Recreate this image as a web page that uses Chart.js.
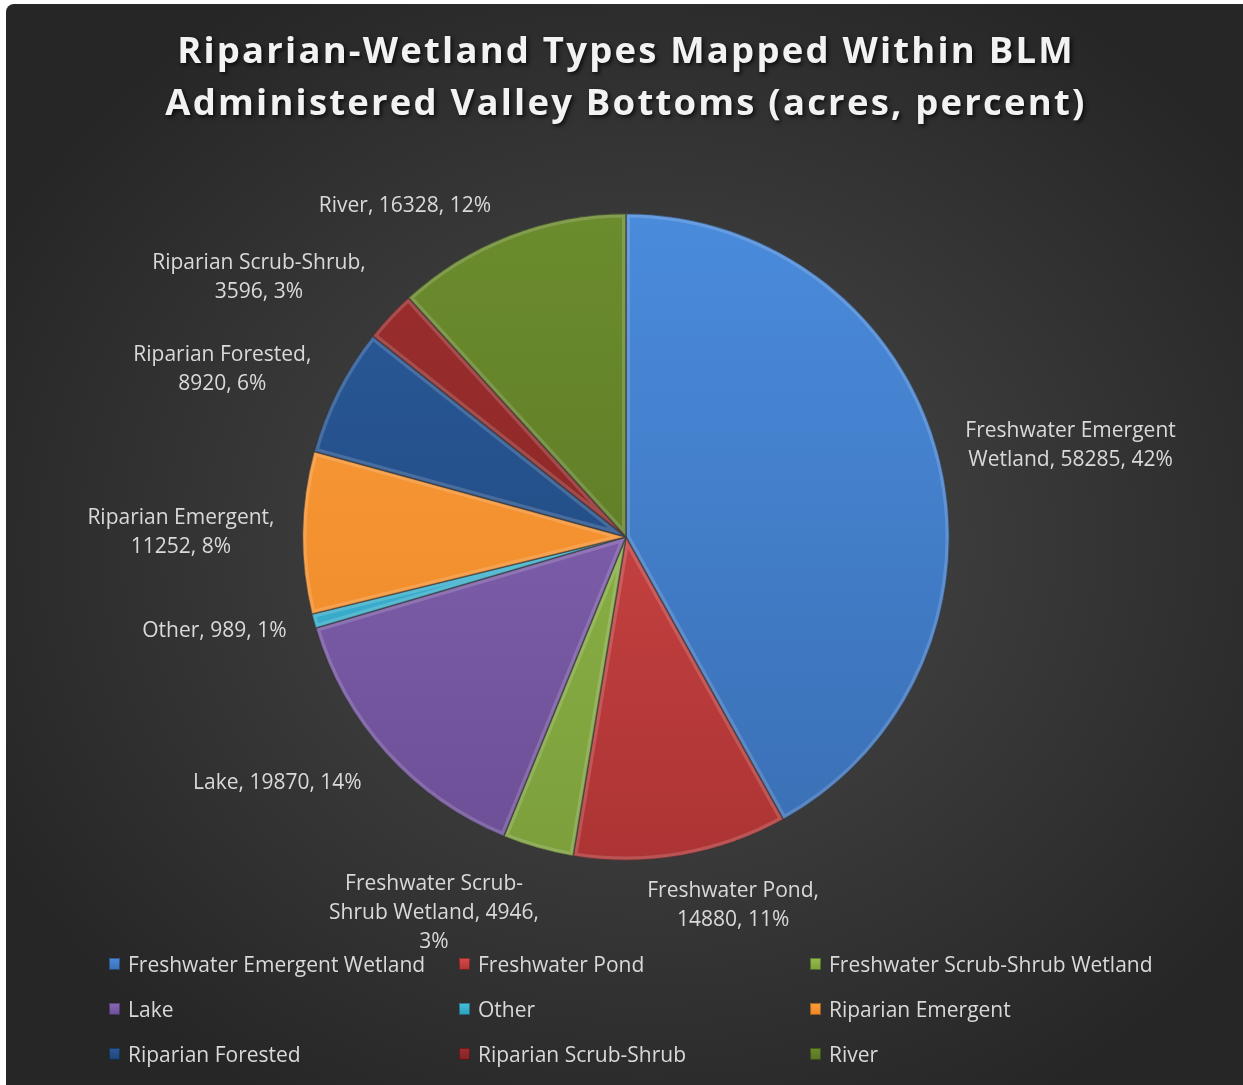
<!DOCTYPE html>
<html>
<head>
<meta charset="utf-8">
<title>Riparian-Wetland Types</title>
<script src="https://cdn.jsdelivr.net/npm/chart.js@4/dist/chart.umd.min.js"></script>
<style>
    html, body {
        margin: 0;
        padding: 0;
        background: #ffffff;
        width: 1243px;
        height: 1085px;
        overflow: hidden;
    }
    #frame {
        position: absolute;
        left: 6px;
        top: 4px;
        width: 1237px;
        height: 1081px;
        border-top-left-radius: 8px;
        background: radial-gradient(ellipse 60% 60% at 52% 50%, #4a4a4a 0%, #3a3a3a 45%, #262626 100%);
    }
    #pie {
        position: absolute;
        left: 0;
        top: 0;
    }
    #legend {
        position: absolute;
        left: 109px;
        top: 941px;
        display: grid;
        grid-template-columns: 350px 351px 380px;
        grid-auto-rows: 45px;
        font-family: "Open Sans", sans-serif;
        font-size: 21px;
        color: #d9d9d9;
    }
    #legend .item {
        display: flex;
        align-items: center;
        white-space: nowrap;
    }
    #legend .box {
        width: 11px;
        height: 12px;
        margin-right: 8px;
        box-shadow: inset 0 0 0 1px rgba(0,0,0,0.35);
    }
</style>
</head>
<body>
<div id="frame"></div>
<canvas id="pie" width="1243" height="1085"></canvas>
<div id="legend"></div>

<script>
// Riparian-wetland acreage by type
const categories = [
    'Freshwater Emergent Wetland',
    'Freshwater Pond',
    'Freshwater Scrub-Shrub Wetland',
    'Lake',
    'Other',
    'Riparian Emergent',
    'Riparian Forested',
    'Riparian Scrub-Shrub',
    'River'
];
const acres = [58285, 14880, 4946, 19870, 989, 11252, 8920, 3596, 16328];
const percents = [42, 11, 3, 14, 1, 8, 6, 3, 12];

const titleLines = [
    'Riparian-Wetland Types Mapped Within BLM',
    'Administered Valley Bottoms (acres, percent)'
];

// top / bottom shade of each slice
const palette = [
    ['#4a8bdc', '#3a6fb4'],
    ['#d94b4b', '#ad3434'],
    ['#93bd4c', '#7c9f3c'],
    ['#8a68b9', '#6c4f96'],
    ['#46c0de', '#2f9fbd'],
    ['#fa9d3c', '#ee8624'],
    ['#2a5b9c', '#1e4476'],
    ['#9c2e2e', '#832323'],
    ['#6b8c2d', '#587323']
];

// how far each label box is pushed from where it lands by default
const labelNudge = [
    [18, 0], [35, 9], [-72, 11], [-37, 11], [-18, 3],
    [-16, 0], [-25, -3], [-44, -11], [-69, -5]
];
const labelWrap = [225, 225, 215, 225, 225, 225, 225, 225, 225];

const LABEL_FONT = '21px "Open Sans", sans-serif';
const LABEL_LINE = 29;

/**
 * Break a label into lines no wider than maxWidth, splitting after spaces or hyphens
 */
function wrapText(ctx, text, maxWidth) {
    const parts = text.split(/(?<=[ -])/);
    const lines = [];
    let line = '';
    parts.forEach(p => {
        const test = line + p;
        if (line && ctx.measureText(test.trimEnd()).width > maxWidth) {
            lines.push(line.trimEnd());
            line = p;
        } else {
            line = test;
        }
    });
    if (line) lines.push(line.trimEnd());
    return lines;
}

const titlePlugin = {
    id: 'spacedTitle',
    afterDraw(chart) {
        const ctx = chart.ctx;
        ctx.save();
        ctx.font = 'bold 36.5px "Open Sans", sans-serif';
        ctx.letterSpacing = '2.2px';
        ctx.textAlign = 'center';
        ctx.textBaseline = 'middle';
        ctx.fillStyle = '#f2f2f2';
        ctx.shadowColor = 'rgba(0,0,0,0.75)';
        ctx.shadowBlur = 4;
        ctx.shadowOffsetX = 2;
        ctx.shadowOffsetY = 2;
        titleLines.forEach((t, i) => ctx.fillText(t, 626, 53 + i * 52));
        ctx.restore();
    }
};

// soft inner highlight along every slice edge
const bevelPlugin = {
    id: 'bevel',
    afterDatasetsDraw(chart) {
        const ctx = chart.ctx;
        chart.getDatasetMeta(0).data.forEach(arc => {
            const { x, y, startAngle, endAngle, outerRadius } = arc.getProps(['x', 'y', 'startAngle', 'endAngle', 'outerRadius'], true);
            ctx.save();
            ctx.beginPath();
            ctx.moveTo(x, y);
            ctx.arc(x, y, outerRadius, startAngle, endAngle);
            ctx.closePath();
            ctx.clip();
            ctx.lineJoin = 'round';
            ctx.lineWidth = 8;
            ctx.strokeStyle = 'rgba(255,255,255,0.16)';
            ctx.stroke();
            ctx.lineWidth = 2;
            ctx.strokeStyle = 'rgba(0,0,0,0.25)';
            ctx.stroke();
            ctx.restore();
        });
    }
};

// "Category, acres, pct%" labels set outside each slice
const outsideLabels = {
    id: 'outsideLabels',
    afterDatasetsDraw(chart) {
        const ctx = chart.ctx;
        const ds = chart.data.datasets[0];
        ctx.save();
        ctx.font = LABEL_FONT;
        ctx.fillStyle = '#d9d9d9';
        ctx.textAlign = 'center';
        ctx.textBaseline = 'middle';
        chart.getDatasetMeta(0).data.forEach((arc, i) => {
            const { x, y, startAngle, endAngle, outerRadius } = arc.getProps(['x', 'y', 'startAngle', 'endAngle', 'outerRadius'], true);
            const mid = (startAngle + endAngle) / 2;
            const cos = Math.cos(mid), sin = Math.sin(mid);
            const text = `${chart.data.labels[i]}, ${ds.data[i]}, ${percents[i]}%`;
            const lines = wrapText(ctx, text, labelWrap[i]);
            const w = Math.max(...lines.map(l => ctx.measureText(l).width));
            const h = lines.length * LABEL_LINE;
            const ax = x + (outerRadius + 12) * cos;
            const ay = y + (outerRadius + 12) * sin;
            const cx = ax + cos * w / 2 + labelNudge[i][0];
            const cy = ay + sin * h / 2 + labelNudge[i][1];
            lines.forEach((l, k) => {
                ctx.fillText(l, cx, cy - h / 2 + LABEL_LINE * (k + 0.5));
            });
        });
        ctx.restore();
    }
};

const canvas = document.getElementById('pie');
const chart = new Chart(canvas, {
    type: 'pie',
    data: {
        labels: categories,
        datasets: [{
            data: acres,
            backgroundColor: (c) => {
                const area = c.chart.chartArea;
                const shade = palette[c.dataIndex];
                if (!area) return shade[0];
                const g = c.chart.ctx.createLinearGradient(0, area.top, 0, area.bottom);
                g.addColorStop(0, shade[0]);
                g.addColorStop(1, shade[1]);
                return g;
            },
            borderColor: 'rgba(40,40,40,0.6)',
            borderWidth: 1,
            hoverOffset: 0
        }]
    },
    options: {
        responsive: false,
        animation: false,
        events: [],
        layout: {
            padding: { top: 213, bottom: 224, left: 9, right: 0 }
        },
        plugins: {
            legend: { display: false },
            title: { display: false },
            tooltip: { enabled: false }
        }
    },
    plugins: [bevelPlugin, outsideLabels, titlePlugin]
});

// legend in three fixed columns under the pie
const legendEl = document.getElementById('legend');
categories.forEach((name, i) => {
    const item = document.createElement('div');
    item.className = 'item';
    const box = document.createElement('span');
    box.className = 'box';
    box.style.background = `linear-gradient(${palette[i][0]}, ${palette[i][1]})`;
    item.appendChild(box);
    item.appendChild(document.createTextNode(name));
    legendEl.appendChild(item);
});
</script>
</body>
</html>
